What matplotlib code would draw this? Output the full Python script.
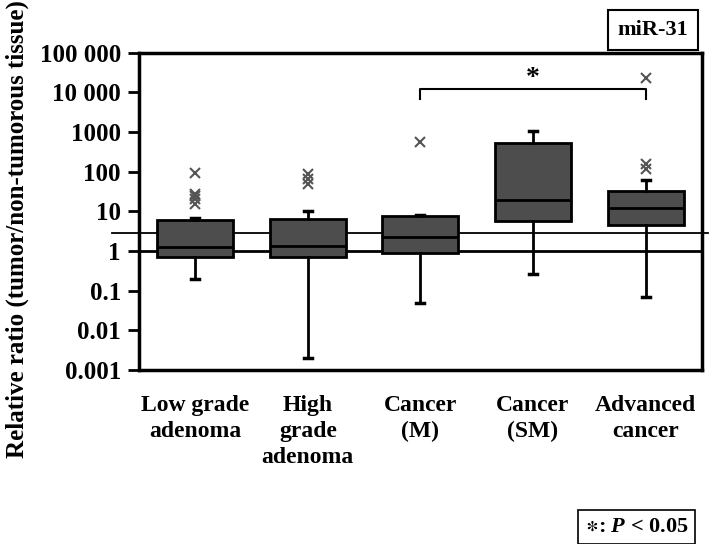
import matplotlib
matplotlib.use('Agg')
import matplotlib.pyplot as plt
import matplotlib.transforms as mtransforms

plt.rcParams['font.family'] = ['Liberation Serif', 'DejaVu Serif']
plt.rcParams['font.weight'] = 'bold'
plt.rcParams['mathtext.fontset'] = 'custom'
plt.rcParams['mathtext.it'] = 'Liberation Serif:italic:bold'
plt.rcParams['mathtext.rm'] = 'Liberation Serif:bold'
plt.rcParams['mathtext.fallback'] = 'stix'

# data
groups = ['Low grade\nadenoma', 'High\ngrade\nadenoma', 'Cancer\n(M)', 'Cancer\n(SM)', 'Advanced\ncancer']
q1 = [0.69, 0.70, 0.88, 5.6, 4.6]
med = [1.24, 1.36, 2.2, 19.4, 12.0]
q3 = [6.2, 6.4, 7.5, 534, 33]
whislo = [0.20, 0.002, 0.05, 0.26, 0.068]
whishi = [6.8, 10.0, 8.0, 1050, 62]
fliers = [[95, 28, 24, 20, 15], [88, 65, 50], [550], [], [23000, 155, 118]]

ref_line = 2.8          # thin horizontal reference line
bracket_lo, bracket_hi = 6900, 12300
star_y = 22000

yticks = [0.001, 0.01, 0.1, 1, 10, 100, 1000, 10000, 100000]
ytick_labels = ['0.001', '0.01', '0.1', '1', '10', '100', '1000', '10 000', '100 000']

fig = plt.figure(figsize=(7.09, 5.44), dpi=100)
ax = fig.add_axes([0.196, 0.320, 0.794, 0.583])

stats = []
for i in range(len(groups)):
    stats.append(dict(med=med[i], q1=q1[i], q3=q3[i], whislo=whislo[i],
                      whishi=whishi[i], fliers=fliers[i]))

pos = [0.5 + i for i in range(len(groups))]
ax.bxp(stats, positions=pos, widths=0.675, patch_artist=True, capwidths=0.07,
       boxprops=dict(facecolor='#4d4d4d', edgecolor='black', linewidth=2),
       medianprops=dict(color='black', linewidth=2),
       whiskerprops=dict(color='black', linewidth=2),
       capprops=dict(color='black', linewidth=2.5),
       flierprops=dict(marker='x', markeredgecolor='#555555', markersize=7,
                       markeredgewidth=1.5, linestyle='none'))

ax.set_yscale('log')
ax.set_ylim(0.001, 100000)
ax.set_xlim(0, 5)
ax.set_yticks(yticks)
ax.set_yticklabels(ytick_labels)
ax.yaxis.set_minor_locator(matplotlib.ticker.NullLocator())
ax.tick_params(axis='y', direction='out', length=8, width=2, labelsize=18, pad=5)
ax.set_xticks(pos)
ax.set_xticklabels(groups, fontsize=17, linespacing=1.3, va='top')
ax.tick_params(axis='x', length=0, pad=18)
for s in ax.spines.values():
    s.set_linewidth(2.5)

# reference lines
ax.axhline(1, color='black', linewidth=2, zorder=1)
trans = mtransforms.blended_transform_factory(fig.transFigure, ax.transData)
ax.plot([112 / 709, 708 / 709], [ref_line, ref_line], color='black', linewidth=1.3,
        transform=trans, clip_on=False, zorder=1)

# significance bracket
ax.plot([2.5, 2.5, 4.5, 4.5], [bracket_lo, bracket_hi, bracket_hi, bracket_lo],
        color='black', linewidth=1.5)
ax.text(3.5, star_y, '*', ha='center', va='center', fontsize=20)

fig.text(0.024, 0.579, 'Relative ratio (tumor/non-tumorous tissue)', fontsize=18,
         fontweight='bold', rotation=90, ha='center', va='center')

fig.text(0.921, 0.945, 'miR-31', ha='center', va='center', fontsize=16,
         bbox=dict(boxstyle='square,pad=0.45', facecolor='white', edgecolor='black', linewidth=1.5))
fig.text(0.898, 0.031, r'$\ast$: $P$ < 0.05', ha='center', va='center', fontsize=16,
         bbox=dict(boxstyle='square,pad=0.3', facecolor='white', edgecolor='black', linewidth=1.2))

fig.savefig('out.png', dpi=100)
